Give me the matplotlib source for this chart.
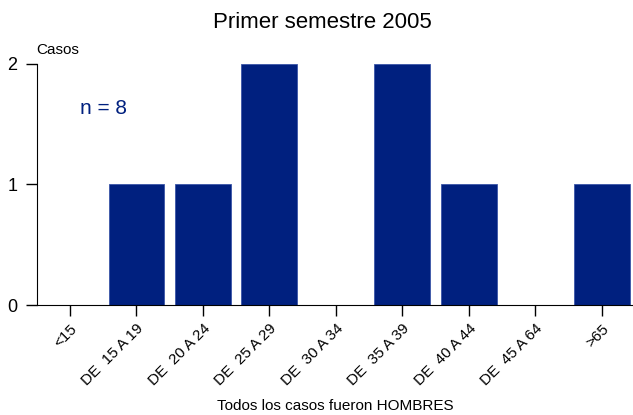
import matplotlib
matplotlib.use("Agg")
import matplotlib.pyplot as plt

plt.rcParams['font.family'] = ['Liberation Sans', 'DejaVu Sans']

grupos = ["<15", "DE  15 A 19", "DE  20 A 24", "DE  25 A 29", "DE  30 A 34",
          "DE  35 A 39", "DE  40 A 44", "DE  45 A 64", ">65"]
casos = [0, 1, 1, 2, 0, 2, 1, 0, 1]
total = sum(casos)

fig = plt.figure(figsize=(6.33, 4.15), dpi=100)
ax = fig.add_axes([0.058, 0.265, 0.94, 0.581])

x = range(len(grupos))
ax.bar(x, casos, width=0.84, color="#00207F", edgecolor="#3a55a8", linewidth=0.6)

ax.set_xlim(-0.5, 8.45)
ax.set_ylim(0, 2)
ax.set_yticks([0, 1, 2])
ax.set_xticks(list(x))
ax.set_xticklabels(grupos, rotation=45, ha="right", va="top", rotation_mode="anchor", fontsize=11)
ax.tick_params(axis="y", labelsize=13, length=8, width=1, direction="out", pad=6)
ax.tick_params(axis="x", length=8, width=1, direction="out", pad=4)

ax.spines["top"].set_visible(False)
ax.spines["right"].set_visible(False)

fig.text(0.51, 0.945, "Primer semestre 2005", fontsize=16, ha="center", va="center")
fig.text(0.529, 0.022, "Todos los casos fueron HOMBRES", fontsize=11, ha="center", va="center")
ax.text(0.0, 1.03, "Casos", transform=ax.transAxes, fontsize=11, ha="left", va="bottom")
ax.text(0.072, 0.815, "n = " + str(total), transform=ax.transAxes, fontsize=15,
        color="#00207F", ha="left", va="center")

fig.savefig("out.png", dpi=100)
